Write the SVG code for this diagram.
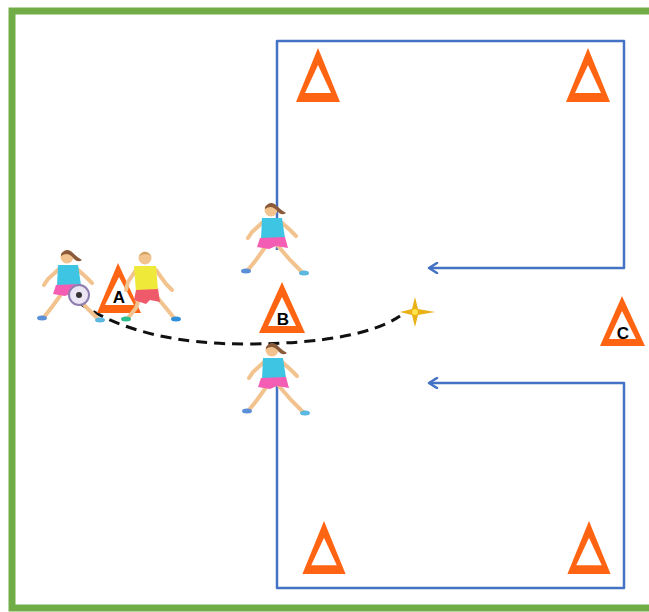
<svg xmlns="http://www.w3.org/2000/svg" width="649" height="612" viewBox="0 0 649 612">
  <style>
    .field { fill: #ffffff; stroke: #70AD47; stroke-width: 7; }
    .lane { fill: none; stroke: #4472C4; stroke-width: 2.5; stroke-linejoin: round; }
    .pass { fill: none; stroke: #111111; stroke-width: 3; stroke-dasharray: 11 7; }
    .cone { fill: #FF6412; }
    .hole { fill: #ffffff; }
    .lbl { font-family: "Liberation Sans", Arial, sans-serif; font-weight: bold; font-size: 17px; fill: #000000; text-anchor: middle; }
    .skin { fill: none; stroke: #F2C38E; stroke-width: 4; stroke-linecap: round; }
  </style>
  <defs>
    <marker id="chev" viewBox="0 0 12 12" refX="10" refY="6" markerWidth="12" markerHeight="12" markerUnits="userSpaceOnUse" orient="auto">
      <path d="M2,1 L10,6 L2,11" fill="none" stroke="#4472C4" stroke-width="2.5" stroke-linecap="round" stroke-linejoin="round"/>
    </marker>
    <!-- cone: orange triangle with white centre -->
    <symbol id="cone" viewBox="0 0 44 54" overflow="visible">
      <polygon class="cone" points="22,0 0,54 44,54"/>
      <polygon class="hole" points="22,17 9,45 35,45"/>
    </symbol>
    <!-- girl player in cyan shirt and pink shorts -->
    <g id="girl">
      <path class="skin" d="M-9,-18 L-20,-8 L-24,-2"/>
      <path class="skin" d="M9,-18 L18,-10 L24,-4"/>
      <path class="skin" d="M-6,6 L-16,20 L-24,30"/>
      <path class="skin" d="M6,6 L18,20 L30,32"/>
      <polygon points="-10,-22 10,-22 13,-2 -11,-1" fill="#3EC5E3"/>
      <polygon points="-12,-2 13,-3 16,8 4,6 -3,9 -15,7" fill="#F45DB4"/>
      <circle cx="-1" cy="-30" r="6.5" fill="#F2C38E"/>
      <path d="M-7,-33 Q-1,-41 6,-33 Q9,-30 14,-27 Q10,-24 6,-28 Q0,-36 -7,-31 Z" fill="#8A5A3A"/>
      <ellipse cx="-26" cy="31" rx="5" ry="2.5" fill="#5B8FD8"/>
      <ellipse cx="32" cy="33" rx="5" ry="2.5" fill="#5BB8E0"/>
    </g>
  </defs>

  <rect class="field" x="12" y="11" width="700" height="597"/>

  <g id="connectors">
    <path class="lane" d="M277,250 L277,41 L624,41 L624,268 L429,268" marker-end="url(#chev)"/>
    <path class="lane" d="M277,380 L277,588 L624,588 L624,383 L429,383" marker-end="url(#chev)"/>
    <path class="pass" d="M78,302 Q140,345 250,344 Q360,343 400,316"/>
  </g>

  <g id="cone-top-left"><use href="#cone" x="296" y="48" width="44" height="54"/></g>
  <g id="cone-top-right"><use href="#cone" x="566" y="48" width="44" height="54"/></g>
  <g id="cone-bottom-left"><use href="#cone" x="302" y="521" width="44" height="53"/></g>
  <g id="cone-bottom-right"><use href="#cone" x="567" y="521" width="44" height="53"/></g>

  <g id="player-a">
    <use href="#girl" transform="translate(68,287)"/>
    <circle cx="79" cy="295" r="10" fill="#ECE6F4" stroke="#8E7FB0" stroke-width="2"/>
    <circle cx="79" cy="295" r="3" fill="#333333"/>
  </g>

  <g id="cone-a">
    <polygon class="cone" points="118,263 97,313 141,313"/>
    <polygon class="hole" points="119,277 105,305 134,305"/>
    <text class="lbl" x="119" y="303">A</text>
  </g>

  <g id="defender">
    <path class="skin" d="M136,270 L128,282 L126,290"/>
    <path class="skin" d="M156,270 L166,284 L172,290"/>
    <path class="skin" d="M140,296 L136,308 L128,318"/>
    <path class="skin" d="M156,296 L166,308 L174,318"/>
    <polygon points="134,266 156,266 158,290 136,292" fill="#EFEA3A"/>
    <polygon points="136,290 158,289 160,302 150,300 146,304 134,300" fill="#EE5A6A"/>
    <circle cx="145" cy="258" r="6.5" fill="#F2C38E"/>
    <path d="M139,256 Q145,248 151,256 Q146,252 139,256 Z" fill="#C8A060"/>
    <ellipse cx="126" cy="319" rx="5" ry="2.5" fill="#2FBF8A"/>
    <ellipse cx="176" cy="319" rx="5" ry="2.5" fill="#2F8FD8"/>
  </g>

  <g id="player-upper"><use href="#girl" transform="translate(272,240)"/></g>

  <g id="cone-b">
    <polygon class="cone" points="282,282 259,333 305,333"/>
    <polygon class="hole" points="282,297 268,326 296,326"/>
    <text class="lbl" x="283" y="325">B</text>
  </g>

  <g id="player-lower"><use href="#girl" transform="translate(273,380)"/></g>

  <g id="cone-c">
    <polygon class="cone" points="622,296 600,346 645,346"/>
    <polygon class="hole" points="622,311 609,339 636,339"/>
    <text class="lbl" x="623" y="339">C</text>
  </g>

  <g id="target">
    <path d="M415,297 L418,309 L435,312 L418,315 L415,327 L412,315 L400,312 L412,309 Z" fill="#E9B116"/>
    <circle cx="415" cy="312" r="3" fill="#FFE34A"/>
  </g>
</svg>
